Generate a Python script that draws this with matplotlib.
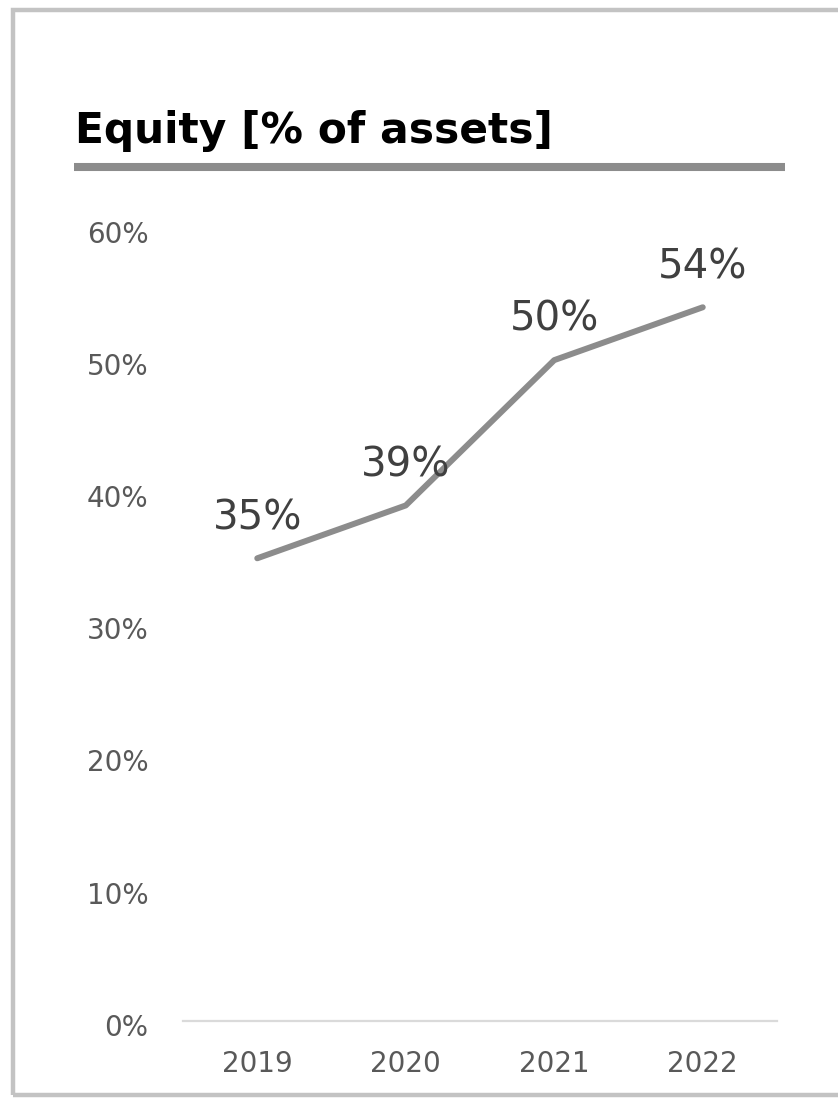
import matplotlib
matplotlib.use("Agg")
import matplotlib.pyplot as plt
from matplotlib.patches import Rectangle
from matplotlib.lines import Line2D
from matplotlib.transforms import ScaledTranslation

years = ["2019", "2020", "2021", "2022"]
equity_pct = [35, 39, 50, 54]
y_ticks = [0, 10, 20, 30, 40, 50, 60]
title = "Equity [% of assets]"

plt.rcParams["font.family"] = ["DejaVu Sans"]

W, H = 838, 1098
fig = plt.figure(figsize=(W / 100, H / 100), dpi=100)
fig.patch.set_facecolor("white")

# outer frame (open on the right side)
fig.add_artist(Rectangle((13 / W, 1 - 1095 / H), 1.2, (1095 - 9.5) / H,
                         transform=fig.transFigure, fill=False,
                         edgecolor="#c3c3c3", linewidth=3.2))

# title and underline rule
fig.text(75 / W, 1 - 143 / H, title, fontsize=30.5, fontweight="bold",
         color="#000000", ha="left", va="baseline")
fig.add_artist(Line2D([74 / W, 785 / W], [1 - 167 / H, 1 - 167 / H],
                      transform=fig.transFigure, color="#8c8c8c",
                      linewidth=5.8, solid_capstyle="butt"))

ax = fig.add_axes([183 / W, 1 - 1020.7 / H, (777 - 183) / W, (1020.7 - 228) / H])
x = list(range(len(years)))
ax.plot(x, equity_pct, color="#8c8c8c", linewidth=4.3,
        solid_capstyle="round", solid_joinstyle="round", clip_on=False)

for xi, v in zip(x, equity_pct):
    ax.annotate(f"{v}%", (xi, v), xytext=(0, 21), textcoords="offset points",
                ha="center", va="baseline", fontsize=29, color="#404040")

ax.set_xlim(-0.5, len(years) - 0.5)
ax.set_ylim(0, 60)
ax.set_xticks(x)
ax.set_xticklabels(years)
ax.set_yticks(y_ticks)
ax.set_yticklabels([f"{t}%" for t in y_ticks])
ax.tick_params(axis="both", length=0, labelsize=20, labelcolor="#595959")
ax.tick_params(axis="x", pad=21)
ax.tick_params(axis="y", pad=25)
shift = ScaledTranslation(0, -4 / 100, fig.dpi_scale_trans)
for lab in ax.get_yticklabels():
    lab.set_transform(lab.get_transform() + shift)

for side in ["top", "right", "left"]:
    ax.spines[side].set_visible(False)
ax.spines["bottom"].set_color("#dadada")
ax.spines["bottom"].set_linewidth(1.6)
ax.set_facecolor("none")

fig.savefig("out.png", dpi=100, facecolor="white")
